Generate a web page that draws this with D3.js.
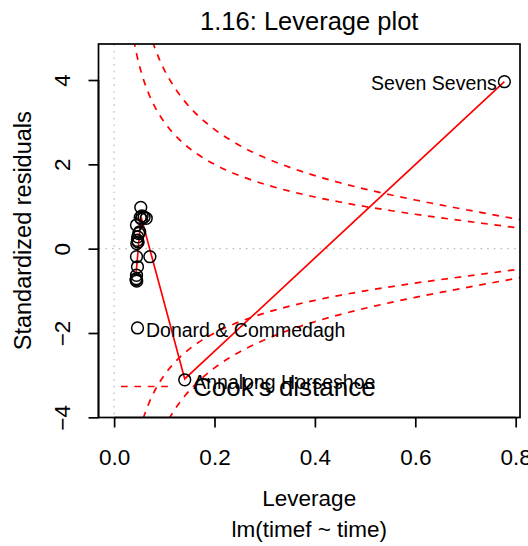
<!DOCTYPE html>
<html><head><meta charset="utf-8">
<script src="https://cdn.jsdelivr.net/npm/d3@7"></script>
<style>
body{margin:0;background:#fff}
svg{display:block;font-family:"Liberation Sans",Arial,Helvetica,sans-serif}
</style>
</head><body>
<svg id="c" width="528" height="546"></svg>
<script>
// ---- data ----
const leverage = [0.0531,0.0557,0.0597,0.0640,0.0545,0.0520,0.0446,0.0490,0.0470,0.0466,0.0452,0.0478,
                  0.0446,0.0712,0.0466,0.0446,0.0442,0.0450,0.0510,0.0436,0.0466,0.1407,0.7775];
const stdResid = [0.98,0.78,0.75,0.72,0.70,0.74,0.56,0.36,0.28,0.20,0.12,0.16,
                  -0.19,-0.19,-0.43,-0.63,-0.71,-0.77,0.40,-0.74,-1.88,-3.11,3.96];
const pointLabels = ["","","","","","","","","","","","","","","","","","","","",
                     "Donard & Commedagh","Annalong Horseshoe","Seven Sevens"];
const labelSide = ["","","","","","","","","","","","","","","","","","","","","right","right","left"];
// smoother (lowess) vertices
const smoothLev = [0.0436,0.0536,0.1407,0.7775];
const smoothRes = [-0.62,0.76,-3.09,3.96];
// Cook's distance contours (levels 0.5 and 1), read at these leverages
const cookLev  = [0.0078,0.02,0.03,0.04,0.045,0.05,0.06,0.07,0.08,0.09,0.10,0.12,0.14,0.16,0.18,0.20,0.25,0.30,0.35,0.40,0.45,0.50,0.55,0.60,0.65,0.70,0.75,0.81];
const cookHalf = [11.29,7.00,5.686,4.899,4.607,4.359,3.958,3.645,3.391,3.180,3.000,2.708,2.478,2.291,2.134,2.000,1.732,1.528,1.363,1.225,1.106,1.000,0.905,0.816,0.734,0.655,0.577,0.484];
const cookOne  = [15.97,9.90,8.042,6.928,6.515,6.164,5.598,5.155,4.796,4.497,4.243,3.830,3.505,3.240,3.019,2.828,2.449,2.160,1.927,1.732,1.563,1.414,1.279,1.155,1.038,0.926,0.816,0.685];
const xTicks = [0,0.2,0.4,0.6,0.8];
const xTickLabels = ["0.0","0.2","0.4","0.6","0.8"];
const yTicks = [-4,-2,0,2,4];
const yTickLabels = ["\u22124","\u22122","0","2","4"];
const titleText = "1.16: Leverage plot";
const xLabel = "Leverage";
const subLabel = "lm(timef ~ time)";
const yLabel = "Standardized residuals";
const legendText = "Cook's distance";

// ---- layout ----
const L = 98.5, R = 520, T = 44, B = 417.5;
const x = d3.scaleLinear().domain([-0.0311, 0.8086]).range([L, R]);
const y = d3.scaleLinear().domain([-4.004, 4.854]).range([B, T]);
const svg = d3.select("#c");
const FS = 22.5;

svg.append("defs").append("clipPath").attr("id","pc")
  .append("rect").attr("x",L).attr("y",T).attr("width",R-L).attr("height",B-T);
const g = svg.append("g").attr("clip-path","url(#pc)");

// reference dotted lines
g.append("line").attr("x1",x(0)).attr("x2",x(0)).attr("y1",T).attr("y2",B)
  .attr("stroke","#bebebe").attr("stroke-width",1.2).attr("stroke-dasharray","1.7,5");
g.append("line").attr("x1",L).attr("x2",R).attr("y1",y(0)).attr("y2",y(0))
  .attr("stroke","#bebebe").attr("stroke-width",1.2).attr("stroke-dasharray","1.7,5");

// Cook's contours
const cline = d3.line().x(d=>x(d[0])).y(d=>y(d[1])).curve(d3.curveMonotoneX);
[cookHalf, cookOne].forEach(arr=>{
  [1,-1].forEach(s=>{
    g.append("path").datum(cookLev.map((h,i)=>[h, s*arr[i]]))
      .attr("d",cline).attr("fill","none").attr("stroke","#ff0000")
      .attr("stroke-width",1.7).attr("stroke-dasharray","6.7,6.7");
  });
});

// smoother
g.append("path").datum(smoothLev.map((h,i)=>[h, smoothRes[i]]))
  .attr("d",d3.line().x(d=>x(d[0])).y(d=>y(d[1])))
  .attr("fill","none").attr("stroke","#ff0000").attr("stroke-width",1.7);

// points
svg.append("g").selectAll("circle").data(leverage).join("circle")
  .attr("cx",d=>x(d)).attr("cy",(d,i)=>y(stdResid[i])).attr("r",5.9)
  .attr("fill","none").attr("stroke","#000").attr("stroke-width",1.5);

// point labels
const LF = 19.5;
svg.append("g").selectAll("text").data(leverage.map((d,i)=>i).filter(i=>pointLabels[i]))
  .join("text")
  .attr("x",i=> labelSide[i]==="left" ? x(leverage[i])-7.5 : x(leverage[i])+8.5)
  .attr("y",i=> y(stdResid[i]) + LF*0.45)
  .attr("text-anchor",i=> labelSide[i]==="left" ? "end" : "start")
  .attr("font-size",LF).attr("fill","#000")
  .text(i=>pointLabels[i]);

// legend
svg.append("line").attr("x1",121).attr("x2",171).attr("y1",386.5).attr("y2",386.5)
  .attr("stroke","#ff0000").attr("stroke-width",1.7).attr("stroke-dasharray","6.7,6.7");
svg.append("text").attr("x",193).attr("y",395.5).attr("font-size",26).text(legendText);

// box
svg.append("rect").attr("x",L).attr("y",T).attr("width",R-L).attr("height",B-T)
  .attr("fill","none").attr("stroke","#000").attr("stroke-width",1.7);

// x axis
const xa = svg.append("g").attr("transform",`translate(0,${B})`)
  .call(d3.axisBottom(x).tickValues(xTicks).tickSize(10).tickFormat((d,i)=>xTickLabels[i]));
xa.select(".domain").attr("d",`M${x(xTicks[0])},0H${x(xTicks[xTicks.length-1])}`).attr("stroke-width",1.7);
xa.selectAll(".tick line").attr("stroke-width",1.7);
xa.selectAll(".tick text").attr("font-size",FS).attr("font-family",null).attr("fill","#000")
  .attr("dy",null).attr("y",47.5);

// y axis
const ya = svg.append("g").attr("transform",`translate(${L},0)`)
  .call(d3.axisLeft(y).tickValues(yTicks).tickSize(10).tickFormat((d,i)=>yTickLabels[i]));
ya.select(".domain").attr("d",`M0,${y(yTicks[0])}V${y(yTicks[yTicks.length-1])}`).attr("stroke-width",1.7);
ya.selectAll(".tick line").attr("stroke-width",1.7);
ya.selectAll(".tick text").attr("font-size",FS).attr("font-family",null).attr("fill","#000")
  .attr("dy",null).attr("x",null).attr("text-anchor","middle")
  .attr("transform",`translate(${70-L},0) rotate(-90)`);

// titles
svg.append("text").attr("x",(L+R)/2).attr("y",30).attr("text-anchor","middle")
  .attr("font-size",25.5).text(titleText);
svg.append("text").attr("x",(L+R)/2).attr("y",506).attr("text-anchor","middle")
  .attr("font-size",FS).text(xLabel);
svg.append("text").attr("x",(L+R)/2).attr("y",537).attr("text-anchor","middle")
  .attr("font-size",FS).text(subLabel);
svg.append("text").attr("transform",`translate(31,${(T+B)/2}) rotate(-90)`)
  .attr("text-anchor","middle").attr("font-size",23.5).text(yLabel);
</script>
</body></html>
